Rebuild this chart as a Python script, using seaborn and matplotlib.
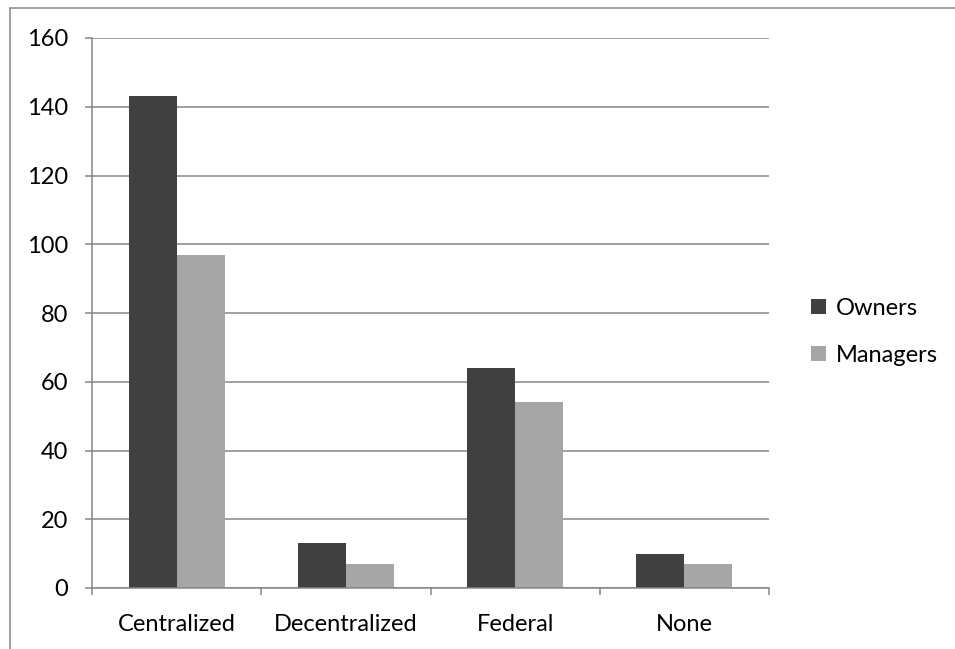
import matplotlib
matplotlib.use("Agg")
import matplotlib.pyplot as plt
from matplotlib.lines import Line2D
from matplotlib.patches import Patch
import seaborn as sns
import pandas as pd

categories = ["Centralized", "Decentralized", "Federal", "None"]
owners = [143, 13, 64, 10]
managers = [97, 7, 54, 7]
series = ["Owners", "Managers"]
colors = ["#404040", "#A6A6A6"]
y_ticks = [0, 20, 40, 60, 80, 100, 120, 140, 160]

df = pd.DataFrame({
    "category": categories * 2,
    "group": [series[0]] * len(categories) + [series[1]] * len(categories),
    "value": owners + managers,
})

sns.set_theme(style="white")
plt.rcParams["font.family"] = ["Lato", "DejaVu Sans"]
plt.rcParams["text.color"] = "black"

FS = 17

W, H = 955, 649
fig = plt.figure(figsize=(W / 100, H / 100), dpi=100)
ax = fig.add_axes([92 / W, 1 - 588 / H, (769 - 92) / W, (588 - 38) / H])

sns.barplot(data=df, x="category", y="value", hue="group", order=categories,
            hue_order=series, palette=colors, width=0.567, gap=0,
            saturation=1, linewidth=0, legend=False, ax=ax)

grid_color = "#868686"
ax.set_ylim(0, 160)
ax.set_xlim(-0.5, len(categories) - 0.5)
ax.set_yticks(y_ticks)
ax.set_yticklabels([str(t) for t in y_ticks], fontsize=FS, color="black")
ax.yaxis.grid(True, color=grid_color, linewidth=1.1)
ax.set_axisbelow(True)

ax.set_xticks(range(len(categories)))
ax.set_xticklabels(categories, fontsize=FS, color="black")
ax.set_xticks([i - 0.5 for i in range(len(categories) + 1)], minor=True)
ax.tick_params(axis="x", which="major", length=0, pad=19)
ax.tick_params(axis="x", which="minor", length=5, width=1.1, color=grid_color,
               direction="out", bottom=True)
ax.tick_params(axis="y", which="major", length=5, width=1.1, color=grid_color,
               direction="out", left=True, pad=12)
ax.set_xlabel("")
ax.set_ylabel("")

for side in ["top", "right"]:
    ax.spines[side].set_visible(False)
for side in ["left", "bottom"]:
    ax.spines[side].set_color(grid_color)
    ax.spines[side].set_linewidth(1.1)

handles = [Patch(facecolor=c, edgecolor="none") for c in colors]
leg = fig.legend(handles, series, loc="center left",
                 bbox_to_anchor=(811 / W, 1 - 332 / H), frameon=False,
                 fontsize=FS, handlelength=0.62, handleheight=0.62,
                 handletextpad=0.45, labelspacing=1.1, borderpad=0,
                 borderaxespad=0)
for t in leg.get_texts():
    t.set_color("black")

# outer chart frame (left and top edges)
fig.add_artist(Line2D([10 / W, 10 / W], [0, 1 - 8 / H], color=grid_color,
                      linewidth=1.1, transform=fig.transFigure))
fig.add_artist(Line2D([10 / W, 1], [1 - 8 / H, 1 - 8 / H], color=grid_color,
                      linewidth=1.1, transform=fig.transFigure))

fig.savefig("out.png", dpi=100, facecolor="white")
